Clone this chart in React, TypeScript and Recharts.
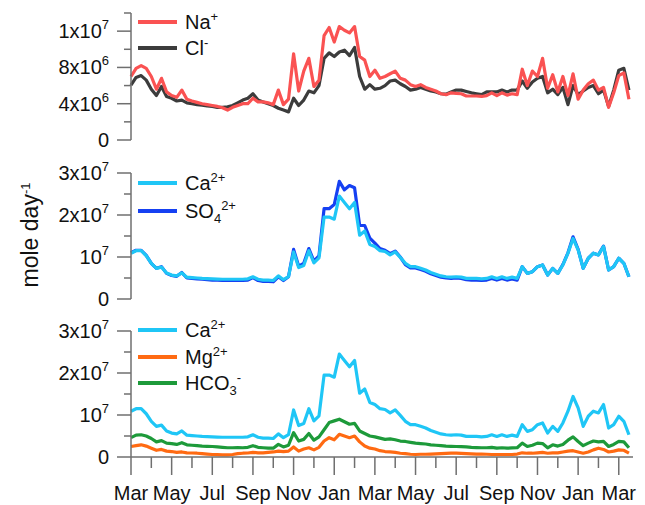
import React from 'react';
import { LineChart, Line, XAxis, YAxis } from 'recharts';

const FONT = '"Liberation Sans", Arial, Helvetica, sans-serif';
const AXIS = '#6f6f6f';

// month labels under the long ticks (every 2 months from Mar)
const monthLabels = ['Mar', 'May', 'Jul', 'Sep', 'Nov', 'Jan', 'Mar', 'May', 'Jul', 'Sep', 'Nov', 'Jan', 'Mar'];
const monthTicks = Array.from({ length: 25 }, (_, i) => i);

// fluxes in 10^6 mole/day, sampled every ~1/4 month from the start of March
const na = [7.0, 7.9, 8.2, 7.9, 7.0, 5.6, 6.8, 5.3, 4.9, 4.7,
  5.5, 4.5, 4.3, 4.15, 4.0, 3.9, 3.8, 3.7, 3.55, 3.3,
  3.6, 3.8, 4.0, 4.0, 4.6, 4.2, 4.2, 4.1, 3.9, 5.5,
  3.9, 4.5, 9.5, 5.4, 7.6, 9.0, 5.9, 6.6, 11.5, 12.4,
  10.8, 12.5, 12.1, 11.8, 12.5, 9.2, 8.8, 7.0, 7.7, 6.8,
  7.0, 7.3, 7.6, 6.8, 6.6, 6.1, 5.9, 6.1, 5.8, 5.6,
  5.4, 5.1, 5.0, 5.2, 5.15, 5.1, 4.85, 4.85, 4.85, 4.8,
  4.9, 5.2, 4.9, 5.2, 4.95, 5.1, 5.0, 7.8, 6.0, 7.6,
  7.0, 9.0, 5.7, 7.2, 5.3, 7.0, 4.9, 7.3, 4.5, 5.5,
  6.2, 6.6, 5.5, 5.8, 3.6, 5.2, 7.1, 7.4, 4.5];

const cl = [6.06, 6.9, 7.1, 6.6, 5.6, 4.9, 5.9, 4.8, 4.6, 4.3,
  4.4, 4.1, 4.0, 3.9, 3.85, 3.75, 3.7, 3.6, 3.6, 3.65,
  3.8, 4.1, 4.4, 4.6, 5.1, 4.4, 4.2, 4.0, 3.8, 3.5,
  3.3, 3.1, 4.6, 3.8, 4.4, 5.4, 5.2, 6.0, 9.0, 9.6,
  9.2, 9.7, 9.9, 9.3, 10.2, 7.0, 5.6, 6.1, 5.6, 5.7,
  6.0, 6.5, 6.6, 6.2, 5.9, 5.5, 5.6, 5.8, 5.6, 5.4,
  5.3, 5.1, 5.05, 5.3, 5.5, 5.5, 5.35, 5.2, 5.1, 5.0,
  5.3, 5.3, 5.3, 5.5, 5.3, 5.5, 5.5, 6.5, 5.7, 6.4,
  6.8, 7.0, 5.2, 5.6, 5.0, 5.8, 3.9, 6.0, 5.0, 5.4,
  5.8, 6.0, 5.1, 5.5, 3.7, 5.5, 7.7, 7.9, 5.5];

const ca = [10.9, 11.5, 11.5, 10.3, 8.5, 7.3, 7.6, 6.2, 5.7, 5.5,
  6.2, 5.2, 5.1, 5.0, 4.9, 4.85, 4.8, 4.75, 4.7, 4.7,
  4.7, 4.7, 4.7, 4.8, 5.3, 4.7, 4.5, 4.5, 4.4, 5.5,
  4.6, 5.3, 11.2, 7.5, 8.0, 11.5, 8.6, 9.8, 19.5, 19.5,
  19.0, 24.5, 23.0, 21.5, 23.0, 15.2, 16.2, 13.0, 12.5, 11.5,
  11.3, 10.5, 11.2, 9.9, 8.5, 7.7, 7.7, 7.3, 6.9, 6.3,
  5.9, 5.5, 5.3, 5.2, 5.3, 5.2, 4.9, 4.9, 4.9, 4.8,
  4.9, 5.3, 4.9, 5.3, 4.9, 5.2, 4.9, 7.7, 6.1, 6.5,
  7.7, 8.1, 5.7, 7.3, 6.1, 8.1, 10.9, 14.4, 11.7, 7.3,
  9.7, 10.9, 10.5, 12.5, 6.9, 7.7, 9.7, 8.5, 5.3];

const so4 = [11.0, 11.6, 11.6, 10.4, 8.5, 7.3, 7.7, 6.1, 5.6, 5.4,
  6.3, 5.0, 4.9, 4.8, 4.7, 4.6, 4.5, 4.5, 4.4, 4.4,
  4.4, 4.4, 4.4, 4.5, 5.1, 4.4, 4.2, 4.2, 4.1, 5.3,
  4.4, 5.3, 11.8, 7.8, 8.5, 12.0, 9.0, 10.3, 21.5, 21.5,
  22.5, 28.0, 26.0, 27.0, 26.5, 17.5, 17.5, 14.5, 13.3, 12.0,
  11.6, 10.8, 11.4, 10.0, 8.2, 7.4, 7.4, 7.0, 6.6, 6.0,
  5.6, 5.2, 5.0, 4.9, 5.0, 4.9, 4.6, 4.5, 4.5, 4.4,
  4.5, 4.9, 4.5, 4.9, 4.5, 4.8, 4.5, 7.7, 6.1, 6.5,
  7.7, 8.1, 5.7, 7.3, 6.1, 8.2, 11.0, 14.8, 11.8, 7.3,
  9.7, 10.9, 10.5, 12.6, 6.9, 7.7, 9.7, 8.5, 5.3];

const mg = [2.5, 2.7, 2.9, 2.6, 2.1, 1.6, 1.8, 1.4, 1.3, 1.1,
  1.2, 1.0, 0.95, 0.9, 0.8, 0.7, 0.6, 0.55, 0.5, 0.5,
  0.6, 0.8, 0.9, 0.95, 1.1, 1.0, 1.0, 1.1, 1.2, 1.4,
  1.3, 1.4, 2.4, 1.4, 1.9, 2.2, 1.7, 2.3, 3.8, 4.6,
  4.1, 5.4, 5.0, 4.6, 5.0, 3.6, 2.6, 2.1, 1.9, 1.5,
  1.3, 1.2, 1.1, 0.9, 0.8, 0.65, 0.6, 0.65, 0.65, 0.7,
  0.75, 0.8, 0.85, 0.9, 0.9, 0.85, 0.8, 0.75, 0.7, 0.7,
  0.65, 0.6, 0.6, 0.6, 0.6, 0.6, 0.7, 1.0, 0.9, 0.9,
  1.0, 1.1, 0.9, 1.0, 1.0, 1.2, 1.4, 1.5, 1.2, 0.9,
  1.2, 1.7, 2.1, 1.8, 1.2, 1.4, 1.7, 1.6, 0.9];

const hco3 = [4.6, 5.2, 5.3, 5.0, 4.4, 3.6, 3.9, 3.3, 3.2, 3.0,
  3.4, 2.9, 2.8, 2.7, 2.6, 2.55, 2.5, 2.4, 2.3, 2.2,
  2.2, 2.25, 2.2, 2.3, 2.7, 2.3, 2.2, 2.1, 2.1, 3.0,
  2.4, 2.8, 5.8, 3.8, 4.2, 5.6, 4.0, 4.8, 6.5, 8.2,
  8.6, 9.0, 8.4, 7.8, 8.0, 6.2, 5.6, 5.0, 4.8, 4.5,
  4.2, 4.3, 4.1, 3.8, 3.7, 3.5, 3.3, 3.2, 3.1, 2.9,
  2.8, 2.7, 2.6, 2.55, 2.5, 2.45, 2.4, 2.3, 2.25, 2.2,
  2.2, 2.3, 2.1, 2.2, 2.1, 2.15, 2.2, 3.3, 2.5, 2.8,
  3.3, 3.2, 2.2, 2.9, 2.6, 3.0, 4.0, 4.8, 3.7, 2.7,
  3.3, 3.8, 3.6, 3.7, 2.5, 3.0, 3.7, 3.6, 2.2];

const data = na.map((v, i) => ({
  t: i * 0.25,
  na: v, cl: cl[i], ca: ca[i], so4: so4[i], mg: mg[i], hco3: hco3[i],
}));

const COLORS = {
  na: '#fa5252',
  cl: '#3c3c3c',
  ca: '#1fc6f6',
  so4: '#1540f2',
  mg: '#ff6a12',
  hco3: '#1d9a3a',
};

// y tick labels: value -> [base, exponent]; the original shows 1.2e7 as "1x10^7"
const topLabels: Record<number, string[]> = { 0: ['0'], 4: ['4x10', '6'], 8: ['8x10', '6'], 12: ['1x10', '7'] };
const lowLabels: Record<number, string[]> = { 0: ['0'], 10: ['10', '7'], 20: ['2x10', '7'], 30: ['3x10', '7'] };
const topTicks = [0, 2, 4, 6, 8, 10, 12, 14];
const lowTicks = [0, 5, 10, 15, 20, 25, 30];

const YTick = ({ x, y, payload, labels }: any) => {
  const lab = labels[payload.value];
  return (
    <g>
      <line x1={x - (lab ? 14 : 7)} x2={x} y1={y} y2={y} stroke={AXIS} strokeWidth={1.5} />
      {lab && (
        <text x={x - 22} y={y + 7} textAnchor="end" fontSize={20} fill="#111" fontFamily={FONT}>
          {lab[0]}
          {lab[1] && <tspan dy={-9} fontSize={13}>{lab[1]}</tspan>}
        </text>
      )}
    </g>
  );
};

const XTick = ({ x, y, payload }: any) => {
  const major = payload.value % 2 === 0;
  return (
    <g>
      <line x1={x} x2={x} y1={y} y2={y + (major ? 18 : 11)} stroke={AXIS} strokeWidth={1.5} />
      {major && (
        <text x={x} y={y + 43} textAnchor="middle" fontSize={20} fill="#111" fontFamily={FONT}>
          {monthLabels[payload.value / 2]}
        </text>
      )}
    </g>
  );
};

const sup = (s: string) => <span style={{ fontSize: 13, position: 'relative', top: -8 }}>{s}</span>;
const sub = (s: string) => <span style={{ fontSize: 13, position: 'relative', top: 5 }}>{s}</span>;

const LegendRows = ({ rows }: { rows: { y: number; color: string; label: React.ReactNode }[] }) => (
  <>
    {rows.map((r, i) => (
      <React.Fragment key={i}>
        <div style={{ position: 'absolute', left: 138, top: r.y - 2, width: 39, height: 4, background: r.color }} />
        <div style={{ position: 'absolute', left: 185, top: r.y - 12, lineHeight: '24px', fontSize: 20, color: '#111', whiteSpace: 'nowrap' }}>
          {r.label}
        </div>
      </React.Fragment>
    ))}
  </>
);

const line = (key: keyof typeof COLORS) => (
  <Line
    type="linear"
    dataKey={key}
    stroke={COLORS[key]}
    strokeWidth={3.2}
    strokeLinejoin="round"
    dot={false}
    isAnimationActive={false}
  />
);

const xHidden = <XAxis type="number" dataKey="t" domain={[0, 24.7]} hide />;

export default function App() {
  return (
    <div style={{ position: 'absolute', left: 0, top: 0, width: 645, height: 505, background: '#fff', fontFamily: FONT }}>
      <div style={{ position: 'absolute', left: 0, top: 0 }}>
        <LineChart width={645} height={150} data={data} margin={{ top: 13, right: 12, bottom: 10, left: 0 }}>
          {xHidden}
          <YAxis
            width={131}
            domain={[0, 14]}
            ticks={topTicks}
            interval={0}
            tickSize={0}
            tickMargin={0}
            tickLine={false}
            axisLine={{ stroke: AXIS, strokeWidth: 1.5 }}
            tick={(p: any) => <YTick {...p} labels={topLabels} />}
          />
          {line('cl')}
          {line('na')}
        </LineChart>
      </div>

      <div style={{ position: 'absolute', left: 0, top: 160 }}>
        <LineChart width={645} height={150} data={data} margin={{ top: 13, right: 12, bottom: 11, left: 0 }}>
          {xHidden}
          <YAxis
            width={131}
            domain={[0, 30]}
            ticks={lowTicks}
            interval={0}
            tickSize={0}
            tickMargin={0}
            tickLine={false}
            axisLine={{ stroke: AXIS, strokeWidth: 1.5 }}
            tick={(p: any) => <YTick {...p} labels={lowLabels} />}
          />
          {line('so4')}
          {line('ca')}
        </LineChart>
      </div>

      <div style={{ position: 'absolute', left: 0, top: 318 }}>
        <LineChart width={645} height={187} data={data} margin={{ top: 13, right: 12, bottom: 0, left: 0 }}>
          <XAxis
            type="number"
            dataKey="t"
            domain={[0, 24.7]}
            ticks={monthTicks}
            interval={0}
            height={48}
            tickSize={0}
            tickMargin={0}
            tickLine={false}
            axisLine={{ stroke: AXIS, strokeWidth: 1.5 }}
            tick={(p: any) => <XTick {...p} />}
          />
          <YAxis
            width={131}
            domain={[0, 30]}
            ticks={lowTicks}
            interval={0}
            tickSize={0}
            tickMargin={0}
            tickLine={false}
            axisLine={{ stroke: AXIS, strokeWidth: 1.5 }}
            tick={(p: any) => <YTick {...p} labels={lowLabels} />}
          />
          {line('ca')}
          {line('mg')}
          {line('hco3')}
        </LineChart>
      </div>

      <LegendRows rows={[
        { y: 22, color: COLORS.na, label: <>Na{sup('+')}</> },
        { y: 48, color: COLORS.cl, label: <>Cl{sup('-')}</> },
        { y: 183, color: COLORS.ca, label: <>Ca{sup('2+')}</> },
        { y: 211, color: COLORS.so4, label: <>SO{sub('4')}{sup('2+')}</> },
        { y: 330, color: COLORS.ca, label: <>Ca{sup('2+')}</> },
        { y: 357, color: COLORS.mg, label: <>Mg{sup('2+')}</> },
        { y: 383, color: COLORS.hco3, label: <>HCO{sub('3')}{sup('-')}</> },
      ]} />

      <div
        style={{
          position: 'absolute',
          left: 32,
          top: 235,
          transform: 'translate(-50%, -50%) rotate(-90deg)',
          fontSize: 23,
          color: '#111',
          whiteSpace: 'nowrap',
          lineHeight: '26px',
        }}
      >
        mole day{sup('-1')}
      </div>
    </div>
  );
}
